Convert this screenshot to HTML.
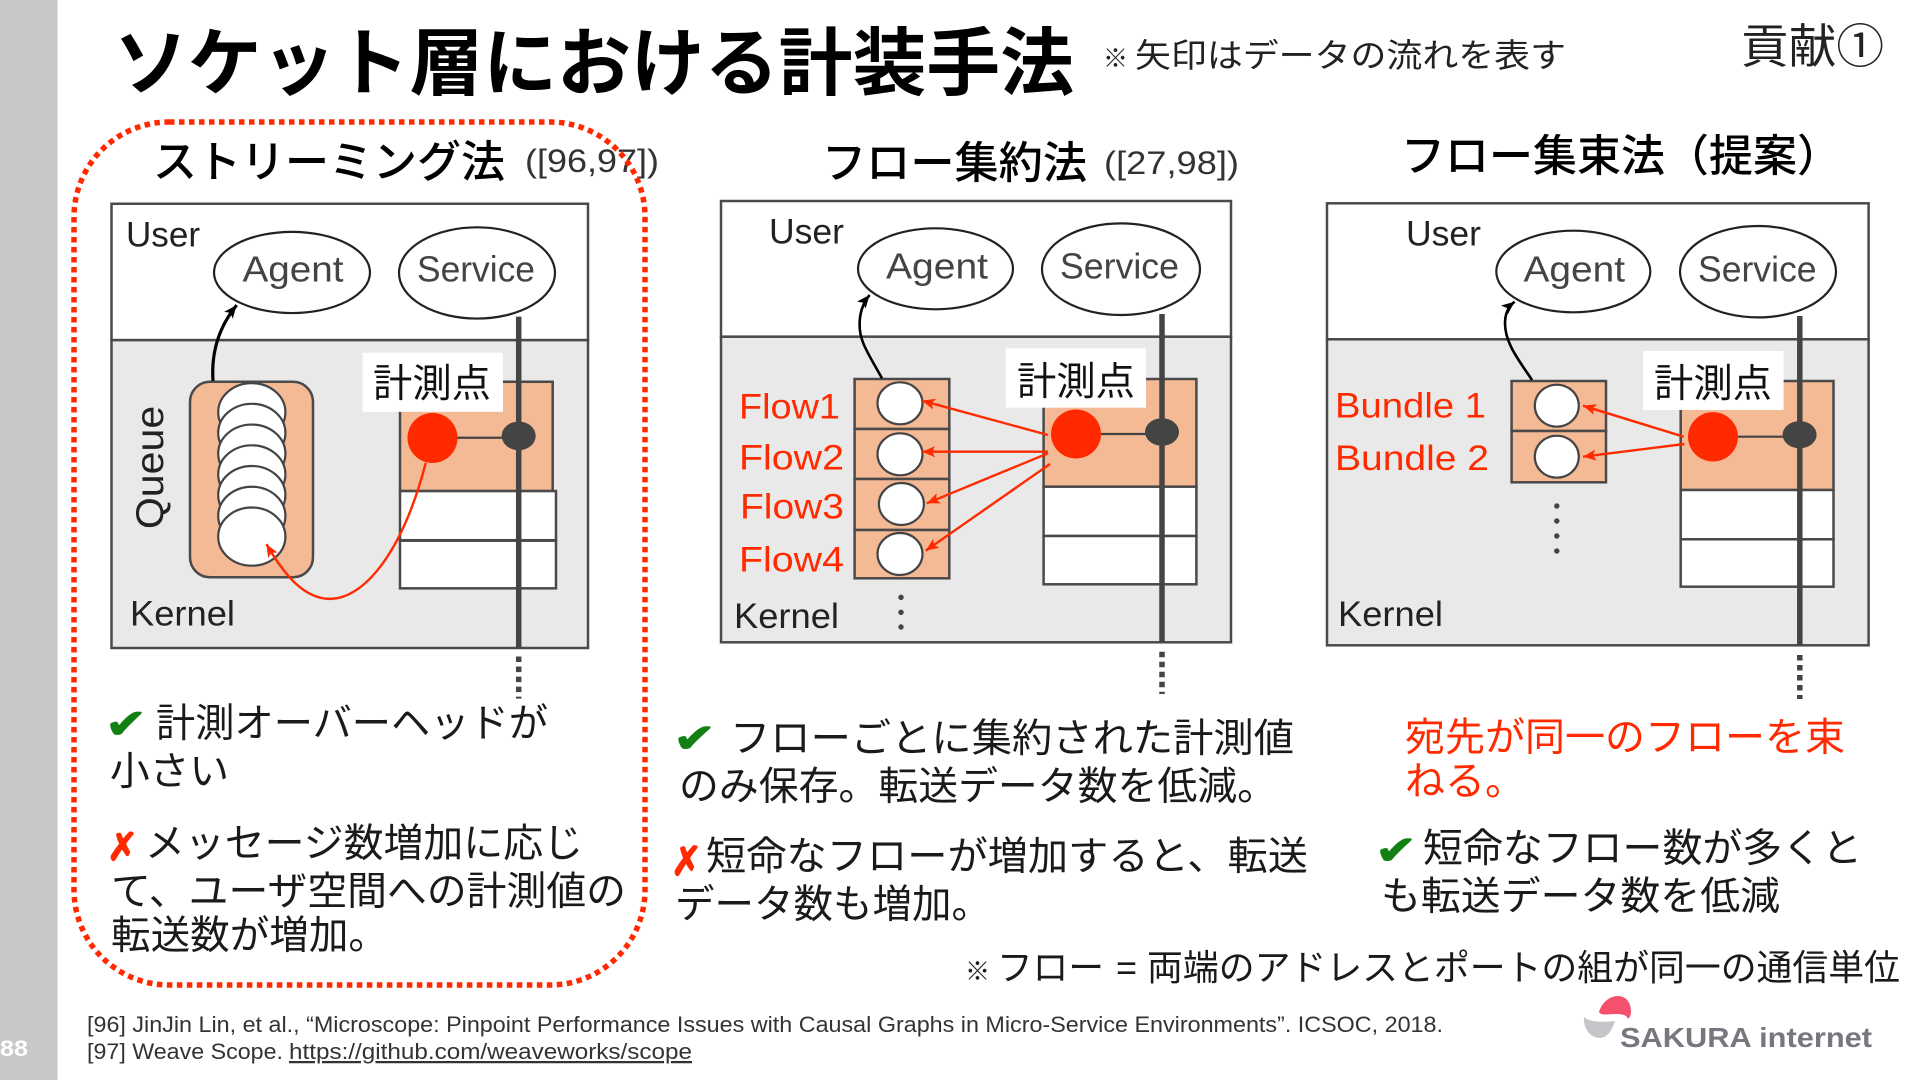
<!DOCTYPE html>
<html lang="ja"><head><meta charset="utf-8"><title>ソケット層における計装手法</title>
<style>
html,body{margin:0;padding:0;background:#fff;width:1920px;height:1080px;overflow:hidden}
svg{display:block}
text{font-family:"Liberation Sans","Noto Sans CJK JP",sans-serif;fill:#1a1a1a}
.j{font-size:39.5px}
.h{font-size:44px;font-weight:500;fill:#000}
.cite{font-size:32px;fill:#333}
.lab{font-size:35px;fill:#222}
.nd{font-size:36px;fill:#444}
.rd{font-size:35px;fill:#ff2a00}
.m{font-size:39px;fill:#111}
.r{font-size:22.5px;fill:#333}
.ok{fill:#138013;stroke:#138013;stroke-width:1;font-family:"DejaVu Sans",sans-serif;font-weight:700}
.ng{fill:#ff2a00;stroke:#ff2a00;stroke-width:1.5;font-family:"DejaVu Sans",sans-serif;font-weight:700}
.box{fill:#fff;stroke:#4a4a4a;stroke-width:2.5}
.ker{fill:#e9e9e9;stroke:#4a4a4a;stroke-width:2.5}
.or{fill:#f4b995;stroke:#4a4a4a;stroke-width:2.5}
.wh{fill:#fff;stroke:#4a4a4a;stroke-width:2.5}
.el{fill:#fff;stroke:#222;stroke-width:2.2}
.ci{fill:#fff;stroke:#444;stroke-width:2.2}
.vl{stroke:#444;stroke-width:5.5;fill:none}
.vd{stroke:#444;stroke-width:5.5;fill:none;stroke-dasharray:5.5 4.5}
.ln{stroke:#444;stroke-width:2.2;fill:none}
.ra{stroke:#ff2a00;stroke-width:2.4;fill:none;marker-end:url(#rh)}
.ba{stroke:#000;stroke-width:2.6;fill:none;marker-end:url(#bh)}
</style></head><body>
<svg xmlns="http://www.w3.org/2000/svg" width="1920" height="1080" viewBox="0 0 1920 1080">
<defs>
<marker id="rh" markerUnits="userSpaceOnUse" markerWidth="16" markerHeight="14" refX="13" refY="7" orient="auto"><path d="M0 1.5L13 7L0 12.5L3 7Z" fill="#ff2a00"/></marker>
<marker id="bh" markerUnits="userSpaceOnUse" markerWidth="16" markerHeight="14" refX="13" refY="7" orient="auto"><path d="M0 1.5L13 7L0 12.5L3 7Z" fill="#000"/></marker>
</defs>
<rect width="1920" height="1080" fill="#fff"/>
<rect x="0" y="0" width="57.5" height="1080" fill="#c8c8c8"/>
<text x="0" y="1056" font-size="22" font-weight="700" style="fill:#fff" textLength="28" lengthAdjust="spacingAndGlyphs">88</text>

<text x="114" y="89" font-size="74" font-weight="700" style="fill:#000" textLength="960" lengthAdjust="spacingAndGlyphs">ソケット層における計装手法</text>
<text x="1103" y="67" font-size="25" font-weight="700" style="fill:#222">※</text>
<text x="1135" y="67" font-size="33" style="fill:#222" textLength="431" lengthAdjust="spacingAndGlyphs">矢印はデータの流れを表す</text>
<text x="1741" y="63" font-size="47" style="fill:#222" textLength="143" lengthAdjust="spacingAndGlyphs">貢献①</text>

<!-- Column 1 -->
<text class="h" x="153" y="177" textLength="352" lengthAdjust="spacingAndGlyphs">ストリーミング法</text>
<text class="cite" x="525" y="172" textLength="134" lengthAdjust="spacingAndGlyphs">([96,97])</text>
<g transform="matrix(1 0 0 1.0028 0 -0.31)">
<rect class="box" x="111.5" y="203.5" width="476.5" height="136"/>
<rect class="ker" x="111.5" y="339.5" width="476.5" height="307"/>
<text class="lab" x="126" y="246" textLength="74" lengthAdjust="spacingAndGlyphs">User</text>
<ellipse class="el" cx="292" cy="272" rx="78" ry="40.5"/>
<ellipse class="el" cx="477" cy="272.5" rx="78" ry="45.5"/>
<text class="nd" x="242.5" y="281" textLength="101" lengthAdjust="spacingAndGlyphs">Agent</text>
<text class="nd" x="417" y="281" textLength="118" lengthAdjust="spacingAndGlyphs">Service</text>
<text class="lab" style="font-size:39px" transform="translate(163 528) rotate(-90)" x="0" y="0" textLength="123" lengthAdjust="spacingAndGlyphs">Queue</text>
<text class="lab" x="130" y="624" textLength="105" lengthAdjust="spacingAndGlyphs">Kernel</text>
<rect class="or" x="190" y="381" width="123" height="195" rx="20"/>
<ellipse class="ci" cx="251.8" cy="411.4" rx="33.6" ry="29"/>
<ellipse class="ci" cx="251.8" cy="432" rx="33.6" ry="29"/>
<ellipse class="ci" cx="251.8" cy="452.7" rx="33.6" ry="29"/>
<ellipse class="ci" cx="251.8" cy="473.4" rx="33.6" ry="29"/>
<ellipse class="ci" cx="251.8" cy="494" rx="33.6" ry="29"/>
<ellipse class="ci" cx="251.8" cy="514.7" rx="33.6" ry="29"/>
<ellipse class="ci" cx="251.8" cy="535.4" rx="33.6" ry="29"/>
<rect class="or" x="400" y="381" width="152.7" height="109"/>
<rect class="wh" x="400" y="490" width="156" height="49"/>
<rect class="wh" x="400" y="539.5" width="156" height="47.5"/>
<path class="vl" d="M518.7 316V647"/>
<path class="vd" d="M518.7 655V697"/>
<rect x="362.5" y="352" width="140.5" height="59" fill="#fff"/>
<text class="m" x="373" y="396" textLength="118" lengthAdjust="spacingAndGlyphs">計測点</text>
<path class="ln" d="M457 436.8H518"/>
<ellipse cx="432.5" cy="437" rx="25" ry="25" fill="#ff2a00"/>
<ellipse cx="518.7" cy="435" rx="17" ry="14.3" fill="#444"/>
<path class="ba" d="M213 380C211 350 220 325 236.7 304.6" style="stroke-width:3.2"/>
<path class="ra" d="M425.8 461.8C400 560 360 597 331 597.5C305 598 285 575 266.4 542.9"/>
</g>
<text class="ok" x="105" y="738" font-size="41" textLength="42" lengthAdjust="spacingAndGlyphs">✔</text>
<text class="j" x="156" y="737" textLength="392" lengthAdjust="spacingAndGlyphs">計測オーバーヘッドが</text>
<text class="j" x="110" y="785" textLength="119" lengthAdjust="spacingAndGlyphs">小さい</text>
<text class="ng" x="107" y="860" font-size="38" textLength="31" lengthAdjust="spacingAndGlyphs">✗</text>
<text class="j" x="145" y="857" textLength="438" lengthAdjust="spacingAndGlyphs">メッセージ数増加に応じ</text>
<text class="j" x="111" y="905" textLength="515" lengthAdjust="spacingAndGlyphs">て、ユーザ空間への計測値の</text>
<text class="j" x="111" y="949" textLength="277" lengthAdjust="spacingAndGlyphs">転送数が増加。</text>
<rect x="74" y="122" width="571" height="863" rx="95" ry="95" fill="none" stroke="#ff2a00" stroke-width="5.5" stroke-dasharray="5.5 4.5"/>

<!-- Column 2 -->
<text class="h" x="822" y="178" textLength="265" lengthAdjust="spacingAndGlyphs">フロー集約法</text>
<text class="cite" x="1104" y="174" textLength="135" lengthAdjust="spacingAndGlyphs">([27,98])</text>
<rect class="box" x="721" y="201" width="510" height="135.7"/>
<rect class="ker" x="721" y="336.7" width="510" height="305.6"/>
<text class="lab" x="769" y="243.5" textLength="75" lengthAdjust="spacingAndGlyphs">User</text>
<ellipse class="el" cx="935.5" cy="268.8" rx="77.5" ry="40.5"/>
<ellipse class="el" cx="1121" cy="269.2" rx="79" ry="45.8"/>
<text class="nd" x="886" y="278.5" textLength="102" lengthAdjust="spacingAndGlyphs">Agent</text>
<text class="nd" x="1060" y="278.5" textLength="119" lengthAdjust="spacingAndGlyphs">Service</text>
<rect class="or" x="854.6" y="379" width="94.7" height="50"/>
<rect class="or" x="854.6" y="429" width="94.7" height="50"/>
<rect class="or" x="854.6" y="479" width="94.7" height="51"/>
<rect class="or" x="854.6" y="530" width="94.7" height="48.3"/>
<ellipse class="ci" cx="900" cy="403.3" rx="22.5" ry="21"/>
<ellipse class="ci" cx="900" cy="454.3" rx="22.5" ry="21"/>
<ellipse class="ci" cx="901.4" cy="504" rx="22.5" ry="21"/>
<ellipse class="ci" cx="900" cy="554" rx="22.5" ry="21"/>
<text class="rd" x="739" y="418.3" textLength="101" lengthAdjust="spacingAndGlyphs">Flow1</text>
<text class="rd" x="739" y="469.3" textLength="105" lengthAdjust="spacingAndGlyphs">Flow2</text>
<text class="rd" x="740" y="518.3" textLength="104" lengthAdjust="spacingAndGlyphs">Flow3</text>
<text class="rd" x="739" y="571.7" textLength="105" lengthAdjust="spacingAndGlyphs">Flow4</text>
<text class="lab" x="734" y="628" textLength="105" lengthAdjust="spacingAndGlyphs">Kernel</text>
<circle cx="901" cy="597.3" r="2.7" fill="#444"/><circle cx="901" cy="612.3" r="2.7" fill="#444"/><circle cx="901" cy="627" r="2.7" fill="#444"/>
<rect class="or" x="1043.6" y="379" width="152.8" height="107.7"/>
<rect class="wh" x="1043.6" y="486.7" width="152.8" height="49.3"/>
<rect class="wh" x="1043.6" y="536" width="152.8" height="48.3"/>
<path class="vl" d="M1162 314V642"/>
<path class="vd" d="M1162 651.7V694"/>
<rect x="1005.7" y="348.3" width="140.3" height="59.4" fill="#fff"/>
<text class="m" x="1017" y="395" textLength="118" lengthAdjust="spacingAndGlyphs">計測点</text>
<path class="ln" d="M1100 434H1146"/>
<ellipse cx="1076" cy="434" rx="25" ry="24.5" fill="#ff2a00"/>
<ellipse cx="1162" cy="432" rx="17" ry="13.8" fill="#444"/>
<path class="ra" d="M1048 435L922 400.7"/>
<path class="ra" d="M1048 451.7L922 451.7"/>
<path class="ra" d="M1048 453.3L926.8 503.3"/>
<path class="ra" d="M1050 464L925.7 550.7"/>
<path class="ba" d="M882 378.3C868 353 859 341 859.6 323.3C859.8 313 863 303 869.6 295"/>
<text class="ok" x="673" y="752" font-size="40" textLength="43" lengthAdjust="spacingAndGlyphs">✔</text>
<text class="j" x="730" y="752" textLength="564" lengthAdjust="spacingAndGlyphs">フローごとに集約された計測値</text>
<text class="j" x="679" y="800" textLength="598" lengthAdjust="spacingAndGlyphs">のみ保存。転送データ数を低減。</text>
<text class="ng" x="671" y="875" font-size="40" textLength="31" lengthAdjust="spacingAndGlyphs">✗</text>
<text class="j" x="706" y="870" textLength="602" lengthAdjust="spacingAndGlyphs">短命なフローが増加すると、転送</text>
<text class="j" x="675" y="918" textLength="316" lengthAdjust="spacingAndGlyphs">データ数も増加。</text>

<!-- Column 3 -->
<text class="h" x="1401" y="171" textLength="440" lengthAdjust="spacingAndGlyphs">フロー集束法（提案）</text>
<rect class="box" x="1327" y="203.3" width="541.6" height="136"/>
<rect class="ker" x="1327" y="339.3" width="541.6" height="306"/>
<text class="lab" x="1406" y="245.5" textLength="75" lengthAdjust="spacingAndGlyphs">User</text>
<ellipse class="el" cx="1573.3" cy="271.5" rx="77" ry="40.8"/>
<ellipse class="el" cx="1758" cy="271.7" rx="78" ry="45.7"/>
<text class="nd" x="1523.5" y="281.5" textLength="101.5" lengthAdjust="spacingAndGlyphs">Agent</text>
<text class="nd" x="1698" y="281.5" textLength="118.5" lengthAdjust="spacingAndGlyphs">Service</text>
<rect class="or" x="1511.6" y="381" width="94.4" height="50"/>
<rect class="or" x="1511.6" y="431" width="94.4" height="51.3"/>
<ellipse class="ci" cx="1556.8" cy="405.7" rx="22" ry="21"/>
<ellipse class="ci" cx="1556.8" cy="456.7" rx="22" ry="21"/>
<text class="rd" x="1335" y="417.3" textLength="151" lengthAdjust="spacingAndGlyphs">Bundle 1</text>
<text class="rd" x="1335" y="470" textLength="154" lengthAdjust="spacingAndGlyphs">Bundle 2</text>
<circle cx="1556.8" cy="506" r="2.7" fill="#444"/><circle cx="1556.8" cy="521" r="2.7" fill="#444"/><circle cx="1556.8" cy="536" r="2.7" fill="#444"/><circle cx="1556.8" cy="551" r="2.7" fill="#444"/>
<text class="lab" x="1338" y="626" textLength="105" lengthAdjust="spacingAndGlyphs">Kernel</text>
<rect class="or" x="1680.7" y="381" width="152.8" height="109"/>
<rect class="wh" x="1680.7" y="490" width="152.8" height="49.3"/>
<rect class="wh" x="1680.7" y="539.3" width="152.8" height="47.4"/>
<path class="vl" d="M1799.8 316V645"/>
<path class="vd" d="M1799.8 655V699"/>
<rect x="1643" y="351" width="140.6" height="59" fill="#fff"/>
<text class="m" x="1654" y="397" textLength="118" lengthAdjust="spacingAndGlyphs">計測点</text>
<path class="ln" d="M1738 436.7H1783"/>
<ellipse cx="1713" cy="436.8" rx="25" ry="24.7" fill="#ff2a00"/>
<ellipse cx="1799.6" cy="434.7" rx="17" ry="13.6" fill="#444"/>
<path class="ra" d="M1683.7 436.7L1583 405.7"/>
<path class="ra" d="M1684.4 444L1583 456.7"/>
<path class="ba" d="M1532 380C1518 359 1505 343 1505 323.3C1505 314 1508 307 1514.6 301.7"/>
<text class="j" x="1405" y="751" textLength="440" lengthAdjust="spacingAndGlyphs" style="fill:#ff2a00">宛先が同一のフローを束</text>
<text class="j" x="1405" y="795" textLength="120" lengthAdjust="spacingAndGlyphs" style="fill:#ff2a00">ねる。</text>
<text class="ok" x="1375" y="864" font-size="40" textLength="42" lengthAdjust="spacingAndGlyphs">✔</text>
<text class="j" x="1423" y="862" textLength="439" lengthAdjust="spacingAndGlyphs">短命なフロー数が多くと</text>
<text class="j" x="1381" y="910" textLength="399" lengthAdjust="spacingAndGlyphs">も転送データ数を低減</text>

<text x="965" y="980" font-size="25" font-weight="700" style="fill:#1a1a1a">※</text>
<text x="997" y="980" font-size="36" style="fill:#1a1a1a" textLength="107" lengthAdjust="spacingAndGlyphs">フロー</text>
<text x="1116" y="980" font-size="36" style="fill:#1a1a1a">=</text>
<text x="1147" y="980" font-size="36" style="fill:#1a1a1a" textLength="753" lengthAdjust="spacingAndGlyphs">両端のアドレスとポートの組が同一の通信単位</text>

<text class="r" x="87" y="1032" textLength="1356" lengthAdjust="spacingAndGlyphs">[96] JinJin Lin, et al., “Microscope: Pinpoint Performance Issues with Causal Graphs in Micro-Service Environments”. ICSOC, 2018.</text>
<text class="r" x="87" y="1059" textLength="196" lengthAdjust="spacingAndGlyphs">[97] Weave Scope.</text>
<text class="r" x="289" y="1059" textLength="403" lengthAdjust="spacingAndGlyphs" text-decoration="underline">https://github.com/weaveworks/scope</text>

<!-- logo -->
<path d="M1599 1012C1602 1002 1610 996 1618 996C1627 996 1631 1004 1631 1011C1631 1015 1630 1017 1628 1019C1627 1015 1622 1014 1616 1014C1608 1014 1601 1016 1599 1012Z" fill="#f5506e"/>
<path d="M1584 1017C1583 1028 1590 1038 1600 1038C1608 1038 1613 1028 1615 1021C1606 1022 1590 1023 1584 1017Z" fill="#c6c6ca"/>
<text x="1620" y="1047" font-size="28" font-weight="700" style="fill:#77777f" textLength="252" lengthAdjust="spacingAndGlyphs">SAKURA internet</text>
</svg>
</body></html>
